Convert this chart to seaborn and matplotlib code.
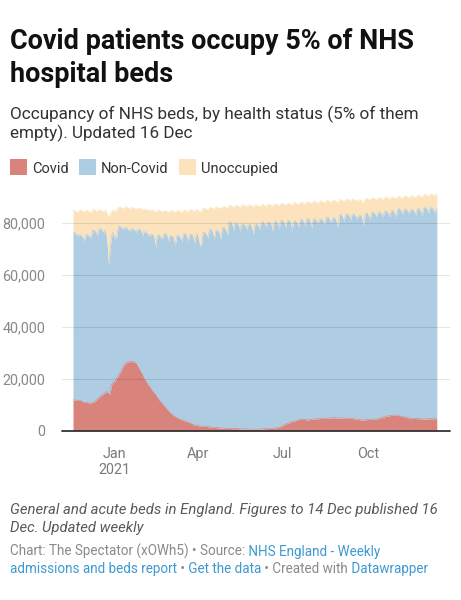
import numpy as np
import pandas as pd
import matplotlib
matplotlib.use("Agg")
import matplotlib.pyplot as plt
from matplotlib.patches import Rectangle
import seaborn as sns

# ---------------- data (thousands of beds, daily from 17 Nov 2020) ----------------
start_date = "2020-11-17"

covid_k = [
    11.8, 11.8, 11.9, 11.8, 11.7, 11.6, 11.8,
    11.7, 11.6, 11.4, 11.2, 11.0, 10.9, 11.0,
    10.9, 10.8, 10.8, 10.7, 10.6, 10.6, 10.8,
    10.9, 11.0, 11.2, 11.5, 11.8, 12.2, 12.5,
    12.8, 13.1, 13.4, 13.7, 14.0, 14.3, 14.5,
    14.7, 15.0, 15.0, 14.5, 14.2, 14.1, 17.0,
    18.2, 18.6, 18.8, 18.9, 19.5, 20.3, 20.8,
    21.4, 22.0, 22.4, 23.2, 24.0, 24.8, 25.3,
    25.7, 26.0, 26.2, 26.4, 26.5, 26.6, 26.6,
    26.5, 26.6, 26.5, 26.4, 26.3, 25.9, 25.3,
    24.6, 24.0, 23.3, 22.6, 22.1, 21.4, 20.6,
    19.8, 19.3, 18.8, 18.2, 17.6, 17.2, 16.8,
    16.2, 15.6, 15.1, 14.7, 14.3, 13.9, 13.3,
    12.8, 12.3, 11.6, 11.2, 10.9, 10.6, 10.1,
    9.6, 9.2, 8.8, 8.3, 7.9, 7.6, 7.1,
    6.8, 6.4, 6.1, 5.9, 5.6, 5.4, 5.2,
    5.0, 4.8, 4.6, 4.4, 4.3, 4.2, 4.1,
    3.9, 3.8, 3.7, 3.5, 3.4, 3.3, 3.2,
    3.0, 2.8, 2.6, 2.4, 2.3, 2.2, 2.2,
    2.1, 2.0, 1.9, 1.9, 1.9, 1.8, 1.8,
    1.8, 1.7, 1.7, 1.6, 1.6, 1.6, 1.5,
    1.5, 1.4, 1.4, 1.3, 1.3, 1.3, 1.2,
    1.2, 1.2, 1.1, 1.1, 1.1, 1.1, 1.0,
    1.0, 1.0, 1.0, 1.0, 0.9, 0.9, 0.9,
    0.9, 0.9, 0.8, 0.8, 0.8, 0.8, 0.8,
    0.8, 0.8, 0.8, 0.8, 0.7, 0.7, 0.7,
    0.7, 0.7, 0.7, 0.7, 0.7, 0.7, 0.7,
    0.7, 0.6, 0.6, 0.6, 0.6, 0.6, 0.6,
    0.6, 0.6, 0.6, 0.6, 0.6, 0.6, 0.7,
    0.7, 0.7, 0.7, 0.8, 0.8, 0.8, 0.8,
    0.8, 0.8, 0.9, 0.9, 0.9, 0.9, 1.0,
    1.0, 1.1, 1.1, 1.2, 1.3, 1.4, 1.5,
    1.6, 1.8, 2.0, 2.2, 2.4, 2.5, 2.7,
    2.8, 3.0, 3.1, 3.3, 3.4, 3.5, 3.6,
    3.7, 3.8, 3.9, 4.0, 4.1, 4.2, 4.3,
    4.3, 4.4, 4.4, 4.4, 4.3, 4.3, 4.2,
    4.2, 4.2, 4.2, 4.3, 4.3, 4.4, 4.4,
    4.5, 4.5, 4.6, 4.6, 4.6, 4.6, 4.6,
    4.7, 4.7, 4.7, 4.7, 4.8, 4.8, 4.8,
    4.8, 4.8, 4.9, 4.9, 4.9, 4.9, 4.9,
    4.9, 5.0, 5.0, 4.9, 4.9, 4.9, 4.9,
    4.9, 4.9, 4.9, 4.9, 4.9, 4.9, 4.8,
    4.8, 4.8, 4.8, 4.8, 4.7, 4.7, 4.7,
    4.7, 4.6, 4.6, 4.5, 4.5, 4.4, 4.4,
    4.3, 4.2, 4.2, 4.2, 4.1, 4.1, 4.2,
    4.2, 4.2, 4.3, 4.3, 4.3, 4.4, 4.4,
    4.4, 4.4, 4.4, 4.5, 4.5, 4.5, 4.6,
    4.7, 4.8, 4.9, 5.0, 5.1, 5.2, 5.3,
    5.4, 5.5, 5.6, 5.7, 5.7, 5.8, 5.8,
    5.9, 5.9, 6.0, 6.0, 6.0, 6.0, 6.0,
    5.9, 5.8, 5.7, 5.6, 5.5, 5.4, 5.4,
    5.3, 5.2, 5.1, 5.0, 5.0, 4.9, 4.9,
    4.8, 4.8, 4.8, 4.7, 4.7, 4.7, 4.7,
    4.6, 4.6, 4.6, 4.6, 4.6, 4.5, 4.5,
    4.5, 4.5, 4.5, 4.6, 4.6, 4.6, 4.6,
    4.6, 4.6, 4.6, 4.6, 4.6, 4.6, 4.6,
    4.6,
]

# all occupied beds (Covid + non-Covid)
occupied_k = [
    76.0, 76.3, 76.1, 75.4, 75.4, 74.6, 75.6,
    75.0, 75.3, 75.1, 74.4, 73.9, 72.7, 74.3,
    75.2, 75.5, 75.3, 74.6, 74.7, 74.0, 74.9,
    77.0, 77.3, 77.1, 76.4, 76.0, 75.0, 76.4,
    77.5, 77.8, 77.6, 76.9, 76.8, 76.0, 77.1,
    76.5, 74.5, 70.5, 63.7, 65.8, 69.5, 73.5,
    75.5, 76.3, 75.2, 73.2, 74.4, 74.0, 76.8,
    78.5, 78.8, 78.6, 77.9, 77.8, 77.0, 78.1,
    77.9, 78.2, 78.0, 77.3, 77.3, 76.6, 77.6,
    77.5, 77.8, 77.6, 76.9, 77.0, 76.3, 77.2,
    77.3, 77.6, 77.4, 76.7, 76.2, 75.0, 76.6,
    76.3, 76.6, 76.4, 75.7, 75.3, 74.2, 75.6,
    75.3, 75.6, 75.4, 74.7, 72.7, 70.4, 73.5,
    75.1, 75.4, 75.2, 74.5, 74.2, 73.3, 74.6,
    75.6, 75.9, 75.7, 75.0, 74.1, 72.7, 74.6,
    74.7, 75.0, 74.8, 74.1, 72.7, 70.8, 73.3,
    75.0, 75.3, 75.1, 74.4, 73.9, 72.7, 74.3,
    75.6, 75.9, 75.7, 75.0, 73.9, 72.2, 74.4,
    75.3, 75.6, 75.4, 74.7, 73.5, 71.8, 74.1,
    75.9, 75.5, 74.0, 72.0, 71.2, 70.8, 72.5,
    76.2, 76.5, 76.3, 75.6, 75.1, 74.0, 75.5,
    77.2, 77.5, 77.3, 76.6, 75.2, 73.3, 75.8,
    77.0, 77.3, 77.1, 76.4, 75.3, 73.6, 75.8,
    78.0, 78.3, 78.1, 77.4, 76.8, 75.5, 75.8,
    80.1, 80.4, 80.2, 79.5, 78.5, 77.0, 79.0,
    79.7, 80.0, 79.8, 79.1, 78.1, 76.5, 78.6,
    79.4, 79.7, 79.5, 78.8, 78.3, 77.2, 78.7,
    79.2, 79.5, 79.3, 78.6, 77.5, 75.9, 76.2,
    79.4, 79.7, 79.5, 78.8, 78.5, 77.5, 78.8,
    80.1, 80.4, 80.2, 79.5, 79.0, 77.8, 79.4,
    80.1, 80.4, 80.2, 79.5, 78.3, 76.5, 78.8,
    80.3, 80.6, 80.4, 79.7, 79.1, 77.8, 79.5,
    80.7, 81.0, 80.8, 80.1, 79.4, 78.0, 79.8,
    80.7, 81.0, 80.8, 80.1, 78.7, 76.8, 79.3,
    80.5, 80.8, 80.6, 79.9, 79.3, 78.0, 79.7,
    81.0, 81.3, 81.1, 80.4, 79.8, 78.5, 80.2,
    81.4, 81.7, 81.5, 80.8, 79.6, 77.8, 80.1,
    81.3, 81.6, 81.4, 80.7, 80.2, 79.1, 80.6,
    81.3, 81.6, 81.4, 80.7, 80.2, 79.0, 80.6,
    82.0, 82.3, 82.1, 81.4, 80.7, 79.3, 81.1,
    81.7, 82.0, 81.8, 81.1, 80.1, 78.5, 78.8,
    82.9, 83.2, 83.0, 82.3, 81.7, 80.4, 82.1,
    83.3, 83.6, 83.4, 82.7, 82.1, 80.8, 82.5,
    83.1, 83.4, 83.2, 82.5, 82.1, 81.0, 82.4,
    82.7, 83.0, 82.8, 82.1, 80.5, 78.5, 81.2,
    83.5, 83.8, 83.6, 82.9, 82.3, 81.0, 82.7,
    83.9, 84.2, 84.0, 83.3, 82.9, 81.8, 83.2,
    84.0, 84.3, 84.1, 83.4, 83.0, 82.0, 83.4,
    84.3, 84.6, 84.4, 83.7, 83.2, 82.0, 83.6,
    84.5, 84.8, 84.6, 83.9, 83.2, 81.8, 83.6,
    85.2, 85.5, 85.3, 84.6, 84.1, 83.0, 84.5,
    85.1, 85.4, 85.2, 84.5, 84.2, 83.2, 84.5,
    85.0, 85.3, 85.1, 84.4, 83.9, 82.8, 84.3,
    85.3, 85.6, 85.4, 84.7, 83.9, 82.5, 84.4,
    85.9, 86.2, 86.0, 85.3, 84.7, 83.5, 85.1,
    85.7, 86.0, 85.8, 85.1, 84.5, 83.2, 84.9,
    85.6,
]

# all available beds (occupied + unoccupied)
total_beds_k = [
    84.6, 84.7, 84.6, 84.4, 84.1, 83.9, 84.3,
    84.8, 84.9, 84.8, 84.6, 84.3, 84.1, 84.5,
    84.6, 84.7, 84.6, 84.4, 84.1, 83.9, 84.3,
    85.0, 85.1, 85.0, 84.8, 84.5, 84.3, 84.7,
    84.8, 84.9, 84.8, 84.6, 84.3, 84.1, 84.5,
    84.8, 84.0, 83.0, 82.3, 82.6, 83.2, 84.0,
    84.6, 85.0, 84.8, 84.2, 84.6, 84.8, 85.6,
    86.0, 86.1, 86.0, 85.8, 85.5, 85.3, 85.7,
    86.0, 86.1, 86.0, 85.8, 85.5, 85.3, 85.7,
    85.8, 85.9, 85.8, 85.6, 85.3, 85.1, 85.5,
    85.6, 85.7, 85.6, 85.4, 85.1, 84.9, 85.3,
    85.2, 85.3, 85.2, 85.0, 84.7, 84.5, 84.9,
    84.8, 84.9, 84.8, 84.6, 84.3, 84.1, 84.5,
    84.8, 84.9, 84.8, 84.6, 84.3, 84.1, 84.5,
    84.6, 84.7, 84.6, 84.4, 84.1, 83.9, 84.3,
    84.6, 84.7, 84.6, 84.4, 84.1, 83.9, 84.3,
    84.6, 84.7, 84.6, 84.4, 84.1, 83.9, 84.3,
    84.8, 84.9, 84.8, 84.6, 84.3, 84.1, 84.5,
    85.0, 85.1, 85.0, 84.8, 84.5, 84.3, 84.7,
    85.2, 85.0, 84.6, 84.2, 84.2, 84.3, 84.8,
    85.6, 85.7, 85.6, 85.4, 85.1, 84.9, 85.3,
    85.8, 85.9, 85.8, 85.6, 85.3, 85.1, 85.5,
    86.0, 86.1, 86.0, 85.8, 85.5, 85.3, 85.7,
    86.2, 86.3, 86.2, 86.0, 85.7, 85.5, 85.6,
    86.6, 86.7, 86.6, 86.4, 86.1, 85.9, 86.3,
    86.6, 86.7, 86.6, 86.4, 86.1, 85.9, 86.3,
    86.8, 86.9, 86.8, 86.6, 86.3, 86.1, 86.5,
    86.8, 86.9, 86.8, 86.6, 86.3, 86.1, 86.1,
    86.8, 86.9, 86.8, 86.6, 86.3, 86.1, 86.5,
    87.0, 87.1, 87.0, 86.8, 86.5, 86.3, 86.7,
    87.0, 87.1, 87.0, 86.8, 86.5, 86.3, 86.7,
    87.2, 87.3, 87.2, 87.0, 86.7, 86.5, 86.9,
    87.4, 87.5, 87.4, 87.2, 86.9, 86.7, 87.1,
    87.4, 87.5, 87.4, 87.2, 86.9, 86.7, 87.1,
    87.6, 87.7, 87.6, 87.4, 87.1, 86.9, 87.3,
    87.8, 87.9, 87.8, 87.6, 87.3, 87.1, 87.5,
    88.0, 88.1, 88.0, 87.8, 87.5, 87.3, 87.7,
    88.2, 88.3, 88.2, 88.0, 87.7, 87.5, 87.9,
    88.3, 88.4, 88.3, 88.1, 87.8, 87.6, 88.0,
    88.5, 88.6, 88.5, 88.3, 88.0, 87.8, 88.2,
    88.6, 88.7, 88.6, 88.4, 88.1, 87.9, 87.9,
    88.8, 88.9, 88.8, 88.6, 88.3, 88.1, 88.5,
    89.0, 89.1, 89.0, 88.8, 88.5, 88.3, 88.7,
    89.0, 89.1, 89.0, 88.8, 88.5, 88.3, 88.7,
    88.8, 88.9, 88.8, 88.6, 87.9, 87.4, 88.4,
    89.3, 89.4, 89.3, 89.1, 88.8, 88.6, 89.0,
    89.5, 89.6, 89.5, 89.3, 89.0, 88.8, 89.2,
    89.6, 89.7, 89.6, 89.4, 89.1, 88.9, 89.3,
    89.8, 89.9, 89.8, 89.6, 89.3, 89.1, 89.5,
    89.8, 89.9, 89.8, 89.6, 89.3, 89.1, 89.5,
    90.0, 90.1, 90.0, 89.8, 89.5, 89.3, 89.7,
    90.2, 90.3, 90.2, 90.0, 89.7, 89.5, 89.9,
    90.3, 90.4, 90.3, 90.1, 89.8, 89.6, 90.0,
    90.5, 90.6, 90.5, 90.3, 90.0, 89.8, 90.2,
    90.8, 90.9, 90.8, 90.6, 90.3, 90.1, 90.5,
    91.0, 91.1, 91.0, 90.8, 90.5, 90.3, 90.7,
    91.2,
]

series_names = ["Covid", "Non-Covid", "Unoccupied"]
series_colors = ["#d9837d", "#aecde2", "#fce3bd"]
y_ticks = [0, 20000, 40000, 60000, 80000]
y_tick_labels = ["0", "20,000", "40,000", "60,000", "80,000"]
x_tick_dates = ["2021-01-01", "2021-04-01", "2021-07-01", "2021-10-01"]
x_tick_labels = ["Jan\n2021", "Apr", "Jul", "Oct"]

title_lines = ["Covid patients occupy 5% of NHS", "hospital beds"]
subtitle_lines = ["Occupancy of NHS beds, by health status (5% of them",
                  "empty). Updated 16 Dec"]
note_lines = ["General and acute beds in England. Figures to 14 Dec published 16",
              "Dec. Updated weekly"]

GRAY = "#8a8a8a"
BLUE = "#3d9ad1"
credit_lines = [
    [("Chart: The Spectator (xOWh5) \u2022 Source:", GRAY), (" NHS England - Weekly", BLUE)],
    [("admissions and beds report", BLUE), (" \u2022", GRAY), (" Get the data", BLUE),
     (" \u2022 Created with", GRAY), (" Datawrapper", BLUE)],
]

# ---------------- build frame ----------------
dates = pd.date_range(start_date, periods=len(covid_k), freq="D")
covid = np.array(covid_k) * 1000
occupied = np.array(occupied_k) * 1000
total = np.array(total_beds_k) * 1000
df = pd.DataFrame({"date": dates,
                   "Covid": covid,
                   "Non-Covid": occupied - covid,
                   "Unoccupied": total - occupied})

# ---------------- style ----------------
sns.set_theme(style="white")
plt.rcParams["font.family"] = ["Roboto", "DejaVu Sans"]

W, H = 461, 600
fig = plt.figure(figsize=(W / 100, H / 100), dpi=100)
fig.patch.set_facecolor("white")
renderer = fig.canvas.get_renderer()


def fx(px):
    return px / W


def fy(py):
    return 1 - py / H


def fit_size(text, target_px, **kw):
    t = fig.text(0, 0, text, fontsize=12, **kw)
    w = t.get_window_extent(renderer).width
    t.remove()
    return 12 * target_px / w


# ---------------- axes ----------------
ax_left, ax_right, ax_base = 61.5, 450.0, 430.7
ymax = 92000
ax_h = ymax * 52 / 20000
ax = fig.add_axes([fx(ax_left), fy(ax_base), (ax_right - ax_left) / W, ax_h / H])
ax.set_facecolor("none")

ax.stackplot(df["date"], df["Covid"], df["Non-Covid"], df["Unoccupied"],
             colors=series_colors, linewidth=0, zorder=1)
cum = df[series_names].cumsum(axis=1)
for name, col in zip(series_names, series_colors):
    sns.lineplot(x=df["date"], y=cum[name], color=col, linewidth=0.4, ax=ax,
                 zorder=2, legend=False)

for v in y_ticks[1:]:
    ax.axhline(v, color=(0, 0, 0, 0.1), linewidth=0.8, zorder=3)
ax.axhline(0, color="#333333", linewidth=1.3, zorder=4, clip_on=False)

px_per_day = (436.8 - 73.0) / (len(dates) - 1)
ax.set_xlim(dates[0] - pd.Timedelta(days=(73.0 - ax_left) / px_per_day),
            dates[-1] + pd.Timedelta(days=(ax_right - 436.8) / px_per_day))
ax.set_ylim(0, ymax)

tick_size = fit_size("80,000", 43)
ax.set_yticks(y_ticks)
ax.set_yticklabels(y_tick_labels)
ax.set_xticks(pd.to_datetime(x_tick_dates))
ax.set_xticklabels(x_tick_labels)
ax.tick_params(axis="y", left=False, pad=5.8, labelsize=tick_size, labelcolor="#888888")
ax.tick_params(axis="x", bottom=False, pad=6.0, labelsize=tick_size, labelcolor="#7a7a7a")
for lbl in ax.get_xticklabels():
    lbl.set_linespacing(1.12)
ax.set_xlabel("")
ax.set_ylabel("")
for s in ax.spines.values():
    s.set_visible(False)
ax.grid(False)

# ---------------- header ----------------
ts = fit_size(title_lines[0], 403, fontweight="bold")
fig.text(fx(10), fy(49.3), title_lines[0], fontsize=ts, fontweight="bold",
         color="#111111", va="baseline")
fig.text(fx(10), fy(81.8), title_lines[1], fontsize=ts, fontweight="bold",
         color="#111111", va="baseline")

ss = fit_size(subtitle_lines[0], 409)
fig.text(fx(10), fy(119.2), subtitle_lines[0], fontsize=ss, color="#333333", va="baseline")
fig.text(fx(10), fy(138.6), subtitle_lines[1], fontsize=ss, color="#333333", va="baseline")

ls = fit_size("Unoccupied", 76.7)
legend_pos = [(10, 32), (79, 101), (179, 201)]
for (sq_x, tx_x), name, col in zip(legend_pos, series_names, series_colors):
    fig.patches.append(Rectangle((fx(sq_x), fy(175)), 16.7 / W, 16 / H,
                                 transform=fig.transFigure, facecolor=col,
                                 edgecolor="none"))
    fig.text(fx(tx_x), fy(173.3), name, fontsize=ls, color="#333333", va="baseline")

# ---------------- footer ----------------
ns = fit_size(note_lines[0], 425.7, fontstyle="italic")
fig.text(fx(10), fy(514.3), note_lines[0], fontsize=ns, fontstyle="italic",
         color="#595959", va="baseline")
fig.text(fx(10), fy(532.3), note_lines[1], fontsize=ns, fontstyle="italic",
         color="#595959", va="baseline")

cs = fit_size("".join(p for p, _ in credit_lines[0]), 371)
for line, base_y in zip(credit_lines, [555.7, 572.7]):
    x = 10.0
    for txt, col in line:
        t = fig.text(fx(x), fy(base_y), txt, fontsize=cs, color=col, va="baseline")
        x = t.get_window_extent(renderer).x1

fig.savefig("out.png", dpi=100, facecolor="white")
